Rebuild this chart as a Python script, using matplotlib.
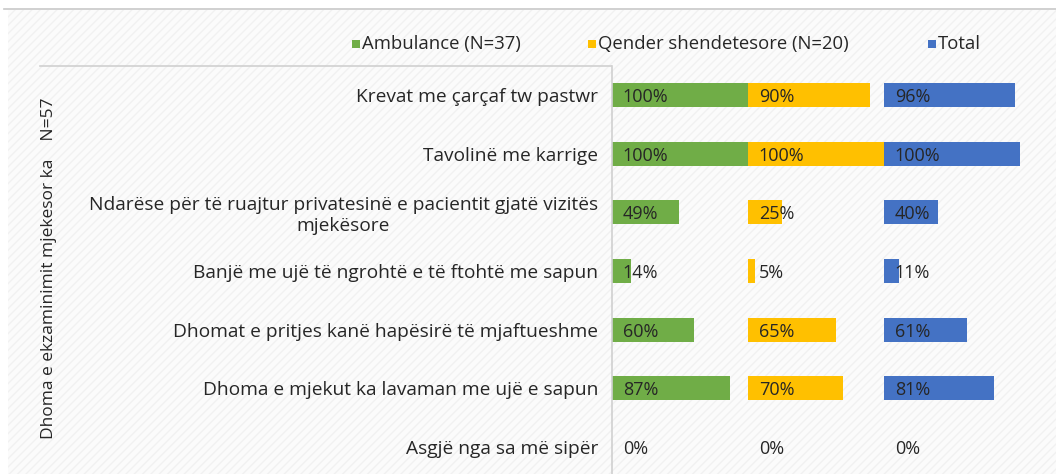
import matplotlib
matplotlib.use("Agg")
import matplotlib.pyplot as plt
from matplotlib.patches import Rectangle
from matplotlib.lines import Line2D

categories = [
    "Krevat me çarçaf tw pastwr",
    "Tavolinë me karrige",
    "Ndarëse për të ruajtur privatesinë e pacientit gjatë vizitës\nmjekësore",
    "Banjë me ujë të ngrohtë e të ftohtë me sapun",
    "Dhomat e pritjes kanë hapësirë të mjaftueshme",
    "Dhoma e mjekut ka lavaman me ujë e sapun",
    "Asgjë nga sa më sipër",
]
ambulance = [100, 100, 49, 14, 60, 87, 0]
qender = [90, 100, 25, 5, 65, 70, 0]
total = [96, 100, 40, 11, 61, 81, 0]
series_names = ["Ambulance (N=37)", "Qender shendetesore (N=20)", "Total"]
colors = ["#70AD47", "#FFC000", "#4472C4"]
group_label = "Dhoma e ekzaminimit mjekesor ka    N=57"

FONT = "Open Sans"
W, H = 1056, 474
fig = plt.figure(figsize=(W / 100, H / 100), dpi=100)
fig.patch.set_facecolor("white")

# background panel with faint hatch
bg = Rectangle((8 / W, 0), 1 - 8 / W, 1 - 10 / H, transform=fig.transFigure,
               facecolor="#fbfbfb", edgecolor="#f1f1f1", hatch="////", lw=0, zorder=-5)
fig.patches.append(bg)
fig.add_artist(Line2D([4 / W, 1], [1 - 9 / H, 1 - 9 / H], color="#c8c8c8", lw=1.2))

ax_left = 612 / W
ax_right = 1.0
ax_top = 1 - 66 / H
ax = fig.add_axes([ax_left, -2 / H, ax_right - ax_left, ax_top + 2 / H])
ax.set_zorder(2)
ax.set_facecolor("none")
panel = 100.0  # each series occupies a 100% panel
xmax = panel * (W - 612) / 136.0
ax.set_xlim(0, xmax)
n = len(categories)
ax.set_ylim(n - 0.5, -0.5)

ys = list(range(n))
for k, (vals, col) in enumerate(zip([ambulance, qender, total], colors)):
    ax.barh(ys, vals, left=k * panel, height=0.41, color=col, zorder=2)
    for y, v in zip(ys, vals):
        ax.text(k * panel + 8.0, y + 0.035, f"{v}%", va="center", ha="left",
                fontsize=13, color="#262626", family=FONT, zorder=3)

for s in ["top", "right", "bottom"]:
    ax.spines[s].set_visible(False)
ax.spines["left"].set_color("#d0d0d0")
ax.spines["left"].set_linewidth(1.2)
ax.set_xticks([])
ax.set_yticks(ys)
ax.set_yticklabels(categories, family=FONT, fontsize=13.8, color="#262626",
                   multialignment="center")
ax.tick_params(axis="y", length=0, pad=10)

# group separator line and group label
fig.add_artist(Line2D([40 / W, 611 / W], [1 - 66 / H, 1 - 66 / H], color="#d0d0d0", lw=1.2))
fig.text(49 / W, 1 - 268 / H, group_label, rotation=90, ha="center", va="center",
         family=FONT, fontsize=12.5, color="#262626")

# legend
leg_x = [352, 588, 928]
for x, c, name in zip(leg_x, colors, series_names):
    fig.patches.append(Rectangle((x / W, 1 - 48 / H), 8 / W, 8 / H,
                                 transform=fig.transFigure, facecolor=c, lw=0))
    fig.text((x + 10) / W, 1 - 44 / H, name, ha="left", va="center",
             family=FONT, fontsize=13.3, color="#262626")

fig.savefig("out.png", dpi=100, facecolor=fig.get_facecolor())
